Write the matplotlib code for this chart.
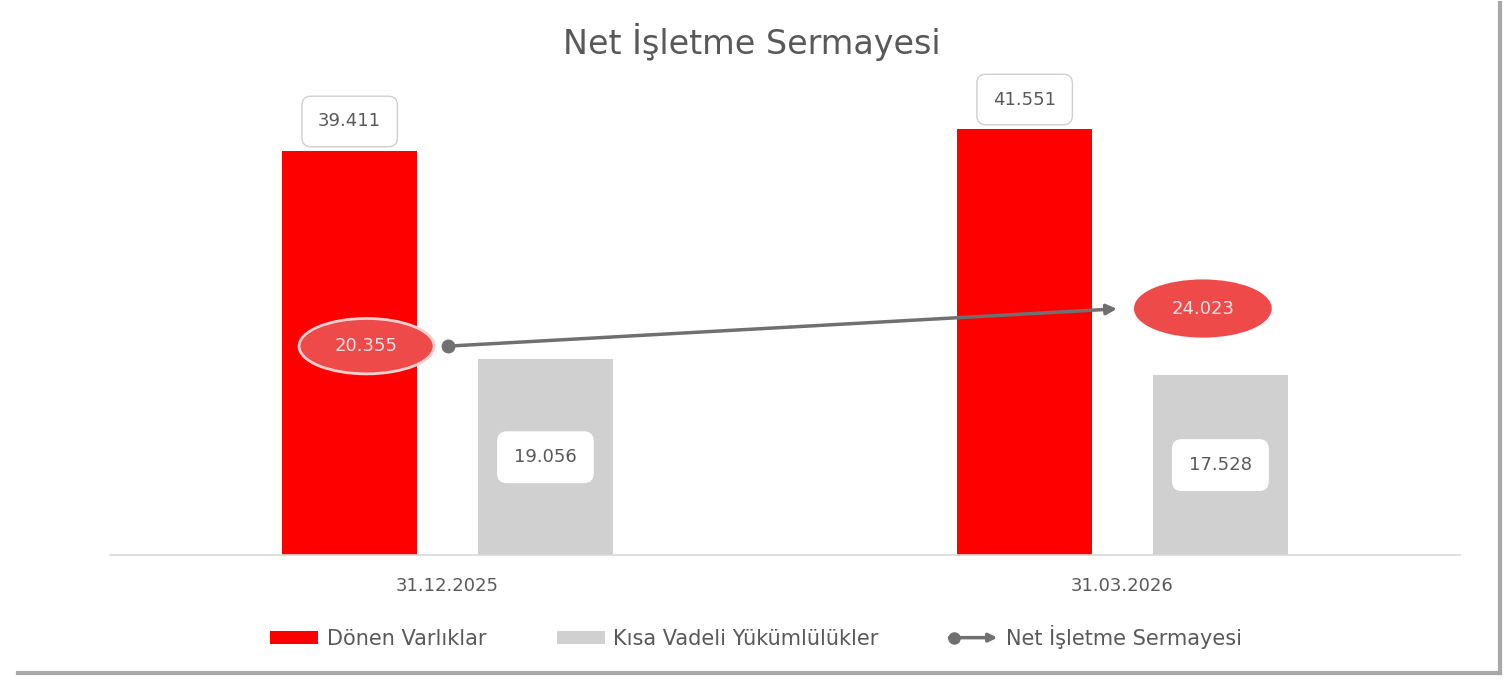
import numpy as np
import matplotlib
matplotlib.use('Agg')
import matplotlib.pyplot as plt
import matplotlib.lines as lines
import matplotlib.patches as patches
from matplotlib.legend_handler import HandlerBase

# data
categories = ['31.12.2025', '31.03.2026']
donen = [39.411, 41.551]
kisa = [19.056, 17.528]
net = [20.355, 24.023]
donen_lbl = ['39.411', '41.551']
kisa_lbl = ['19.056', '17.528']
net_lbl = ['20.355', '24.023']

red = '#FF0000'
grey = '#D0D0D0'
line_col = '#707070'
txt_col = '#595959'
ell_col = '#EE4A4A'

plt.rcParams['font.family'] = ['DejaVu Sans']


class HandlerArrowLine(HandlerBase):
    def create_artists(self, legend, orig_handle, xdescent, ydescent,
                       width, height, fontsize, trans):
        y = height / 2 - ydescent
        x0 = -xdescent
        x1 = width - xdescent
        arr = patches.FancyArrowPatch((x0, y), (x1, y), arrowstyle='-|>',
                                      mutation_scale=12, color=line_col,
                                      lw=2.5, shrinkA=0, shrinkB=0,
                                      transform=trans)
        dot = lines.Line2D([x0 + 3], [y], marker='o', markersize=8,
                           color=line_col, transform=trans)
        return [arr, dot]


fig = plt.figure(figsize=(15.12, 6.79), dpi=100)
ax = fig.add_axes([0.0728, 0.1826, 0.8928, 0.680])

x = np.arange(len(categories))
w = 0.2
off = 0.145
b1 = ax.bar(x - off, donen, width=w, color=red, zorder=2, label='Dönen Varlıklar')
b2 = ax.bar(x + off, kisa, width=w, color=grey, zorder=2, label='Kısa Vadeli Yükümlülükler')

# net line with arrow
ax.plot(x[:1], net[:1], marker='o', markersize=9, color=line_col, zorder=5)
ax.annotate('', xy=(x[1], net[1]), xytext=(x[0], net[0]),
            arrowprops=dict(arrowstyle='-|>', color=line_col, lw=2.5,
                            mutation_scale=15, shrinkA=0, shrinkB=4),
            zorder=5)

# labels on red bars
for xi, v, s in zip(x - off, donen, donen_lbl):
    ax.annotate(s, (xi, v), xytext=(0, 21), textcoords='offset points',
                ha='center', va='center', fontsize=13, color=txt_col,
                bbox=dict(boxstyle='round,pad=0.9,rounding_size=0.5',
                          fc='white', ec='#cfcfcf', lw=1), zorder=6)

# labels inside grey bars
for xi, v, s in zip(x + off, kisa, kisa_lbl):
    ax.annotate(s, (xi, v / 2), ha='center', va='center', fontsize=13,
                color=txt_col,
                bbox=dict(boxstyle='round,pad=0.9,rounding_size=0.5',
                          fc='white', ec='white', lw=1), zorder=6)

# net labels in ellipses
ell_dx = [-0.12, 0.119]
ell_ec = ['#f6d0d0', ell_col]
for xi, v, s, dx, ec in zip(x, net, net_lbl, ell_dx, ell_ec):
    e = patches.Ellipse((xi + dx, v), width=0.2, height=5.4, fc=ell_col,
                        ec=ec, lw=2, zorder=7)
    ax.add_patch(e)
    ax.text(xi + dx, v, s, ha='center', va='center', fontsize=13,
            color='#FBE3E3', zorder=8)

ax.set_xlim(-0.5, 1.5)
ax.set_ylim(0, 45)
ax.set_xticks(x)
ax.set_xticklabels(categories, fontsize=13, color=txt_col)
ax.tick_params(axis='x', length=0, pad=16)
ax.set_yticks([])
for sp in ['top', 'right', 'left']:
    ax.spines[sp].set_visible(False)
ax.spines['bottom'].set_color('#d9d9d9')
ax.spines['bottom'].set_linewidth(1.2)

fig.text(0.497, 1 - 42 / 679, 'Net İşletme Sermayesi', ha='center',
         va='center', fontsize=24, color=txt_col)

net_handle = lines.Line2D([], [], color=line_col, label='Net İşletme Sermayesi')
fig.legend(handles=[b1, b2, net_handle], loc='center',
           bbox_to_anchor=(0.5, 1 - 637 / 679), ncol=3, frameon=False,
           fontsize=15, labelcolor=txt_col, handlelength=2.3,
           handleheight=0.6, handletextpad=0.4, columnspacing=3.4,
           handler_map={net_handle: HandlerArrowLine()})

# frame shadow on right and bottom
fig.add_artist(lines.Line2D([1500 / 1512, 1500 / 1512], [1 - 673 / 679, 1 - 3 / 679],
                            transform=fig.transFigure, color='#a8a8a8', lw=3))
fig.add_artist(lines.Line2D([18 / 1512, 1500 / 1512], [1 - 673 / 679, 1 - 673 / 679],
                            transform=fig.transFigure, color='#a8a8a8', lw=3))

plt.savefig('out.png', dpi=100)
plt.close()
